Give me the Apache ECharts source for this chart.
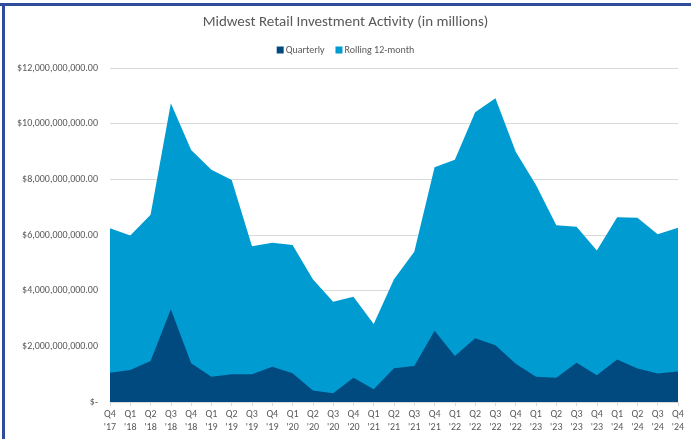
<!DOCTYPE html>
<html>
<head>
<meta charset="utf-8">
<script src="https://cdn.jsdelivr.net/npm/echarts@6/dist/echarts.min.js"></script>
<style>
  html, body { margin: 0; padding: 0; background: #fff; }
  #chart { width: 691px; height: 439px; }
</style>
</head>
<body>
<div id="chart"></div>
<script>
// 季度标签
const quarters = ['Q4', 'Q1', 'Q2', 'Q3', 'Q4', 'Q1', 'Q2', 'Q3', 'Q4', 'Q1', 'Q2', 'Q3', 'Q4', 'Q1', 'Q2',
    'Q3', 'Q4', 'Q1', 'Q2', 'Q3', 'Q4', 'Q1', 'Q2', 'Q3', 'Q4', 'Q1', 'Q2', 'Q3', 'Q4']
const years = ["'17", "'18", "'18", "'18", "'18", "'19", "'19", "'19", "'19", "'20", "'20", "'20", "'20", "'21", "'21",
    "'21", "'21", "'22", "'22", "'22", "'22", "'23", "'23", "'23", "'23", "'24", "'24", "'24", "'24"]
const categories = quarters.map((q, i) => q + '\n' + years[i])

// 单位: 十亿
const quarterly = [1.05, 1.15, 1.47, 3.33, 1.39, 0.91, 1.0, 1.0, 1.27, 1.03, 0.41, 0.31, 0.87, 0.46, 1.21,
    1.29, 2.56, 1.65, 2.29, 2.04, 1.37, 0.91, 0.87, 1.41, 0.96, 1.53, 1.2, 1.02, 1.1]
const rolling = [6.24, 5.98, 6.73, 10.73, 9.05, 8.34, 7.98, 5.6, 5.72, 5.64, 4.41, 3.6, 3.78, 2.8, 4.41,
    5.4, 8.43, 8.7, 10.41, 10.91, 8.99, 7.8, 6.35, 6.3, 5.44, 6.64, 6.62, 6.03, 6.26]

const B = 1e9
const textColor = '#595959'
const font = 'Calibri, Carlito, "Open Sans", sans-serif'

const fmtMoney = v => {
    if (v === 0) return '$-'
    return '$' + v.toLocaleString('en-US', { minimumFractionDigits: 2, maximumFractionDigits: 2 })
}

const chart = echarts.init(document.getElementById('chart'))
chart.setOption({
    animation: false,
    textStyle: { fontFamily: font },
    title: {
        text: 'Midwest Retail Investment Activity (in millions)',
        left: 'center',
        top: 10,
        textStyle: { color: textColor, fontSize: 15, fontWeight: 'normal', fontFamily: font }
    },
    legend: {
        top: 40,
        left: 'center',
        itemWidth: 7,
        itemHeight: 7,
        itemGap: 11,
        icon: 'rect',
        textStyle: { color: textColor, fontSize: 10, padding: [0, 0, 0, -3] },
        data: ['Quarterly', 'Rolling 12-month']
    },
    grid: { left: 110, right: 13, top: 68, bottom: 37, containLabel: false },
    xAxis: {
        type: 'category',
        data: categories,
        boundaryGap: false,
        axisLine: { lineStyle: { color: '#d9d9d9' } },
        axisTick: { show: true, alignWithLabel: true, length: 4, lineStyle: { color: '#d9d9d9' } },
        axisLabel: { color: textColor, fontSize: 10, lineHeight: 13, margin: 6, interval: 0 }
    },
    yAxis: {
        type: 'value',
        min: 0,
        max: 12 * B,
        interval: 2 * B,
        axisLine: { show: false },
        axisTick: { show: false },
        splitLine: { lineStyle: { color: '#d9d9d9' } },
        axisLabel: { color: textColor, fontSize: 10, margin: 12, formatter: fmtMoney }
    },
    graphic: [
        { type: 'rect', shape: { x: 0, y: 3, width: 691, height: 3 }, style: { fill: '#2f4b9b' }, silent: true },
        { type: 'rect', shape: { x: 2, y: 3, width: 3, height: 436 }, style: { fill: '#2f4b9b' }, silent: true }
    ],
    series: [
        {
            name: 'Rolling 12-month',
            type: 'line',
            data: rolling.map(v => v * B),
            symbol: 'none',
            lineStyle: { width: 0 },
            itemStyle: { color: '#009bd0' },
            areaStyle: { color: '#009bd0', opacity: 1 }
        },
        {
            name: 'Quarterly',
            type: 'line',
            data: quarterly.map(v => v * B),
            symbol: 'none',
            lineStyle: { width: 0 },
            itemStyle: { color: '#004a80' },
            areaStyle: { color: '#004a80', opacity: 1 }
        }
    ]
})
</script>
</body>
</html>
